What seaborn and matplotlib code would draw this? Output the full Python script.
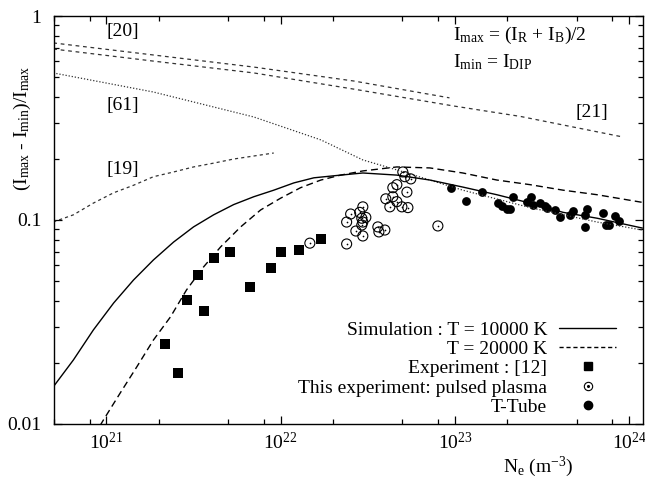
import numpy as np
import pandas as pd
import matplotlib
matplotlib.use('Agg')
import matplotlib.pyplot as plt
import matplotlib.ticker as mticker
from matplotlib.lines import Line2D
from matplotlib.legend_handler import HandlerTuple
import seaborn as sns

# --- curves ---
ref20_n = [4.95e20, 1.86e21, 7.0e21, 2.63e22, 9.3e22]
ref20_v = [0.738, 0.644, 0.562, 0.480, 0.397]

ref21_n = [4.95e20, 1.86e21, 7.0e21, 2.63e22, 9.86e22, 2.37e23, 9.25e23]
ref21_v = [0.689, 0.601, 0.526, 0.438, 0.362, 0.322, 0.255]

ref61_n = [4.95e20, 1.86e21, 7.0e21, 1.70e22, 2.96e22, 4.64e22, 7.18e22,
           1.11e23, 2.70e23, 6.55e23, 1.19e24]
ref61_v = [0.526, 0.424, 0.320, 0.247, 0.197, 0.176, 0.157,
           0.140, 0.115, 0.0977, 0.0893]

ref19_n = [4.95e20, 6.46e20, 8.41e20, 1.10e21, 1.43e21, 1.86e21, 2.43e21,
           3.16e21, 4.12e21, 5.37e21, 9.12e21]
ref19_v = [0.0978, 0.106, 0.121, 0.136, 0.148, 0.163, 0.172,
           0.182, 0.190, 0.199, 0.213]

sim10k_n = [4.95e20, 6.46e20, 8.41e20, 1.10e21, 1.43e21, 1.86e21, 2.43e21,
            3.16e21, 4.12e21, 5.37e21, 7.0e21, 9.12e21, 1.19e22, 1.55e22,
            2.21e22, 2.96e22, 4.64e22, 7.18e22, 1.11e23, 1.74e23, 2.70e23,
            4.18e23, 6.55e23, 1.19e24]
sim10k_v = [0.0152, 0.0206, 0.0289, 0.0392, 0.0508, 0.0637, 0.0780,
            0.0925, 0.106, 0.119, 0.130, 0.140, 0.152, 0.161,
            0.166, 0.170, 0.166, 0.157, 0.145, 0.133, 0.121,
            0.109, 0.102, 0.0913]

sim20k_n = [8.53e20, 9.61e20, 1.20e21, 1.49e21, 1.86e21, 2.33e21, 2.88e21,
            3.61e21, 4.52e21, 5.89e21, 7.67e21, 1.0e22, 1.30e22, 1.70e22,
            2.21e22, 2.96e22, 4.64e22, 7.18e22, 1.11e23, 1.74e23, 2.70e23,
            4.18e23, 6.55e23, 1.19e24]
sim20k_v = [0.00883, 0.01047, 0.0142, 0.0190, 0.0258, 0.0335, 0.0454,
            0.0589, 0.0738, 0.0925, 0.112, 0.128, 0.144, 0.157,
            0.166, 0.174, 0.182, 0.180, 0.170, 0.157, 0.149,
            0.140, 0.133, 0.122]

# --- measured points ---
exp12_n = [2.18e21, 2.59e21, 2.88e21, 3.34e21, 3.61e21, 4.12e21,
           5.09e21, 6.64e21, 8.77e21, 1.0e22, 1.27e22, 1.70e22]
exp12_v = [0.0247, 0.0178, 0.0406, 0.0537, 0.0358, 0.0652,
           0.0697, 0.0470, 0.0582, 0.0697, 0.0713, 0.0807]

pulsed_n = [1.47e22, 2.39e22, 2.39e22, 2.52e22, 2.84e22, 2.96e22, 2.92e22,
            2.96e22, 3.08e22, 2.92e22, 2.70e22, 2.96e22, 3.61e22, 3.66e22,
            3.96e22, 4.01e22, 4.23e22, 4.40e22, 4.64e22, 4.96e22, 5.37e22,
            4.40e22, 4.64e22, 5.30e22, 5.02e22, 5.16e22, 5.58e22, 7.98e22]
pulsed_v = [0.0770, 0.0763, 0.0977, 0.107, 0.109, 0.116, 0.102,
            0.0977, 0.103, 0.0945, 0.0883, 0.0835, 0.0925, 0.0874,
            0.0893, 0.127, 0.116, 0.130, 0.123, 0.116, 0.115,
            0.144, 0.149, 0.137, 0.172, 0.163, 0.159, 0.0935]

ttube_n = [9.48e22, 1.16e23, 1.43e23, 1.77e23, 1.86e23, 1.99e23, 2.07e23,
           2.15e23, 2.59e23, 2.73e23, 2.81e23, 3.08e23, 3.29e23, 3.38e23,
           3.76e23, 4.01e23, 4.58e23, 4.77e23, 5.59e23, 5.74e23, 5.59e23,
           7.10e23, 7.38e23, 7.68e23, 8.32e23, 8.77e23]
ttube_v = [0.144, 0.124, 0.137, 0.121, 0.117, 0.113, 0.113,
           0.130, 0.123, 0.130, 0.119, 0.121, 0.117, 0.115,
           0.112, 0.103, 0.106, 0.111, 0.106, 0.113, 0.0925,
           0.108, 0.0945, 0.0945, 0.105, 0.0989]

sns.set_theme(style='ticks', rc={
    'axes.edgecolor': 'black', 'axes.labelcolor': 'black',
    'xtick.color': 'black', 'ytick.color': 'black', 'text.color': 'black',
    'axes.linewidth': 1.0,
})
plt.rcParams['font.family'] = ['Liberation Serif', 'DejaVu Serif']
plt.rcParams['mathtext.fontset'] = 'custom'
plt.rcParams['mathtext.rm'] = 'Liberation Serif'
plt.rcParams['mathtext.it'] = 'Liberation Serif:italic'
plt.rcParams['mathtext.bf'] = 'Liberation Serif:bold'
plt.rcParams['font.size'] = 14
FS = 14

fig = plt.figure(figsize=(6.45, 4.79), dpi=100)
ax = fig.add_axes([54/645, 1 - 424/479, (643 - 54)/645, (424 - 16)/479])
ax.set_xscale('log')
ax.set_yscale('log')

# reference curves
sns.lineplot(x=ref20_n, y=ref20_v, ax=ax, color='#333333', lw=0.9,
             linestyle=(0, (3, 3)), errorbar=None)
sns.lineplot(x=ref21_n, y=ref21_v, ax=ax, color='#333333', lw=0.9,
             linestyle=(0, (3, 3)), errorbar=None)
sns.lineplot(x=ref61_n, y=ref61_v, ax=ax, color='#333333', lw=0.9,
             linestyle=(0, (1, 1.5)), errorbar=None)
sns.lineplot(x=ref19_n, y=ref19_v, ax=ax, color='#333333', lw=0.9,
             linestyle=(0, (2.5, 2.5)), errorbar=None)

# simulations
sns.lineplot(x=sim10k_n, y=sim10k_v, ax=ax, color='black', lw=1.0, errorbar=None)
sns.lineplot(x=sim20k_n, y=sim20k_v, ax=ax, color='black', lw=1.0,
             linestyle=(0, (5, 3)), errorbar=None)

# data points
sns.scatterplot(x=exp12_n, y=exp12_v, ax=ax, marker='s', s=42, color='black',
                edgecolor='black', linewidth=0)
sns.scatterplot(x=pulsed_n, y=pulsed_v, ax=ax, marker='o', s=52,
                facecolor='none', edgecolor='black', linewidth=0.8)
sns.scatterplot(x=pulsed_n, y=pulsed_v, ax=ax, marker='o', s=1.5, color='black',
                linewidth=0)
sns.scatterplot(x=ttube_n, y=ttube_v, ax=ax, marker='o', s=40, color='black',
                edgecolor='black', linewidth=0)

ax.set_xlim(5e20, 1.2e24)
ax.set_ylim(0.01, 1)

ax.xaxis.set_major_locator(mticker.LogLocator(base=10, numticks=20))
ax.xaxis.set_minor_locator(mticker.LogLocator(base=10, subs=(2, 5, 8), numticks=20))
ax.yaxis.set_major_locator(mticker.LogLocator(base=10, numticks=20))
ax.yaxis.set_minor_locator(mticker.LogLocator(base=10, subs=np.arange(2, 10), numticks=20))
ax.yaxis.set_major_formatter(mticker.FuncFormatter(lambda v, p: f'{v:g}'))
ax.yaxis.set_minor_formatter(mticker.NullFormatter())
ax.xaxis.set_minor_formatter(mticker.NullFormatter())
ax.tick_params(which='both', direction='in', top=True, right=True, width=0.9)
ax.tick_params(which='major', length=6, labelsize=FS)
ax.tick_params(axis='x', which='major', pad=6)
ax.tick_params(axis='y', which='major', pad=9)
ax.tick_params(which='minor', length=3.5)

ax.text(-0.054, 0.724, r'(I$_\mathrm{max}$ - I$_\mathrm{min}$)/I$_\mathrm{max}$',
        transform=ax.transAxes, rotation=90, ha='center', va='center', fontsize=FS)
ax.text(0.822, -0.105, r'N$_\mathrm{e}$ (m$^\mathrm{-3}$)', transform=ax.transAxes,
        ha='center', va='center', fontsize=FS)

# labels of literature curves
ax.text(1.24e21, 0.835, '[20]', ha='center', va='center', fontsize=FS)
ax.text(1.24e21, 0.366, '[61]', ha='center', va='center', fontsize=FS)
ax.text(1.24e21, 0.176, '[19]', ha='center', va='center', fontsize=FS)
ax.text(6.1e23, 0.335, '[21]', ha='center', va='center', fontsize=FS)
ax.text(9.76e22, 0.762, r'I$_\mathrm{max}$ = (I$_\mathrm{R}$ + I$_\mathrm{B}$)/2',
        ha='left', va='baseline', fontsize=FS)
ax.text(9.76e22, 0.562, r'I$_\mathrm{min}$ = I$_\mathrm{DIP}$',
        ha='left', va='baseline', fontsize=FS)

# legend
h_sim10 = Line2D([], [], color='black', lw=1.0)
h_sim20 = Line2D([], [], color='black', lw=1.0, linestyle=(0, (3, 2)))
h_exp = Line2D([], [], ls='none', marker='s', ms=5.8, color='black')
h_puls = (Line2D([], [], ls='none', marker='o', ms=6, mfc='none', mec='black', mew=0.8),
          Line2D([], [], ls='none', marker='o', ms=1.2, color='black'))
h_tt = Line2D([], [], ls='none', marker='o', ms=6, color='black')
ax.legend([h_sim10, h_sim20, h_exp, h_puls, h_tt],
          ['Simulation : T = 10000 K', 'T = 20000 K', 'Experiment : [12]',
           'This experiment: pulsed plasma', 'T-Tube'],
          handler_map={tuple: HandlerTuple(ndivide=1)},
          loc='lower right', bbox_to_anchor=((616 - 54)/589, (424 - 416)/408),
          frameon=False, markerfirst=False, borderpad=0, borderaxespad=0,
          handlelength=2.93, handletextpad=0.61, labelspacing=0.09, fontsize=FS)

fig.savefig('out.png', dpi=100)
